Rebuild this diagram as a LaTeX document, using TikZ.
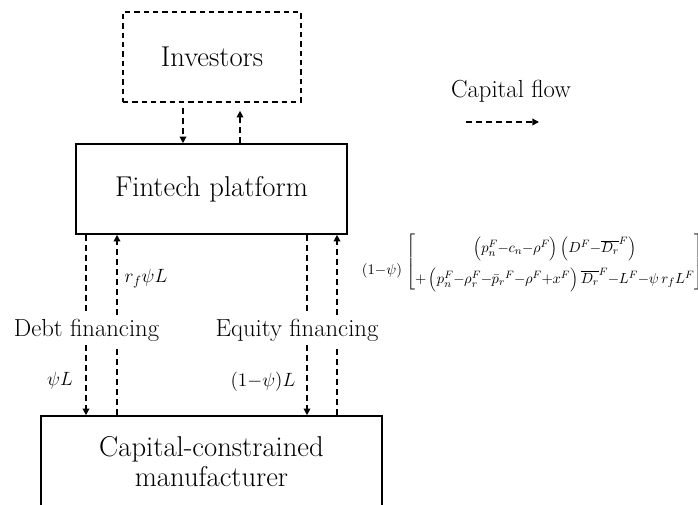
\documentclass[tikz,border=0pt]{standalone}
\usetikzlibrary{arrows.meta}
\begin{document}
\begin{tikzpicture}[x=0.75pt,y=-0.75pt,
  box/.style={draw, line width=1.2pt, inner sep=0pt, align=center, font=\fontsize{21.5}{22.5}\selectfont},
  dashbox/.style={box, dash pattern=on 4pt off 3pt},
  flow/.style={line width=1.1pt, dash pattern=on 4.5pt off 3pt, -{Triangle[length=5pt,width=5pt]}},
  lbl/.style={font=\fontsize{18.5}{20}\selectfont, inner sep=3pt, fill=white},
  mlbl/.style={font=\fontsize{14}{17}\selectfont, inner sep=0pt}]
\clip (0,0) rectangle (698,504);
\useasboundingbox (0,0) rectangle (698,504);
% boxes
\node[dashbox, minimum width=133.5pt, minimum height=67.5pt] (inv) at (212,57) {Investors};
\node[box, minimum width=203.25pt, minimum height=67.5pt] (fin) at (211.5,189) {Fintech platform};
\node[box, minimum width=255.75pt, minimum height=69pt] (man) at (211.5,462) {Capital-constrained\\manufacturer};
% x positions of connectors
\coordinate (xa) at (183,0);
\coordinate (xb) at (240,0);
\coordinate (xd1) at (86,0);
\coordinate (xd2) at (117,0);
\coordinate (xe1) at (307,0);
\coordinate (xe2) at (337,0);
% investors <-> platform
\draw[flow, shorten <=4pt] (inv.south -| xa) -- (fin.north -| xa);
\draw[flow, shorten >=6pt] (fin.north -| xb) -- (inv.south -| xb);
% platform <-> manufacturer
\draw[flow] (fin.south -| xd1) -- (man.north -| xd1);
\draw[flow] (man.north -| xd2) -- (fin.south -| xd2);
\draw[flow] (fin.south -| xe1) -- (man.north -| xe1);
\draw[flow] (man.north -| xe2) -- (fin.south -| xe2);
% labels
\node[lbl] (debt) at (86.5,330) {Debt financing};
\node[lbl] (eqty) at (297,330) {Equity financing};
\node[mlbl] (rf) at (146,279) {$r_f\psi L$};
\node[mlbl] (psil) at (60,381) {$\psi L$};
\node[mlbl] (opl) at (263,382) {\medmuskip=0mu$(1-\psi)L$};
% legend
\node[font=\fontsize{18.5}{20}\selectfont] (cf) at (511,91) {Capital flow};
\coordinate (cfa) at (466,122);
\coordinate (cfb) at (539,122);
\draw[flow] (cfa) -- (cfb);
% formula
\node[font=\fontsize{11}{14}\selectfont, inner sep=0pt] (fac) at (382,271)
 {\medmuskip=0mu$(1-\psi)$};
\node[anchor=west, font=\fontsize{11}{14}\selectfont, inner sep=0pt] (eq) at (406,262)
 {\medmuskip=-0.5mu\renewcommand{\arraystretch}{1.65}$\left[\begin{array}{@{}c@{}}
 \left(p_n^F-c_n-\rho^F\right)\left(D^F-\overline{D_r}^F\right)\\
 +\left(p_n^F-\rho_r^F-\bar{p}_r{}^F-\rho^F+x^F\right)\overline{D_r}^F-L^F-\psi\,r_f L^F
 \end{array}\right]$};
\end{tikzpicture}
\end{document}
